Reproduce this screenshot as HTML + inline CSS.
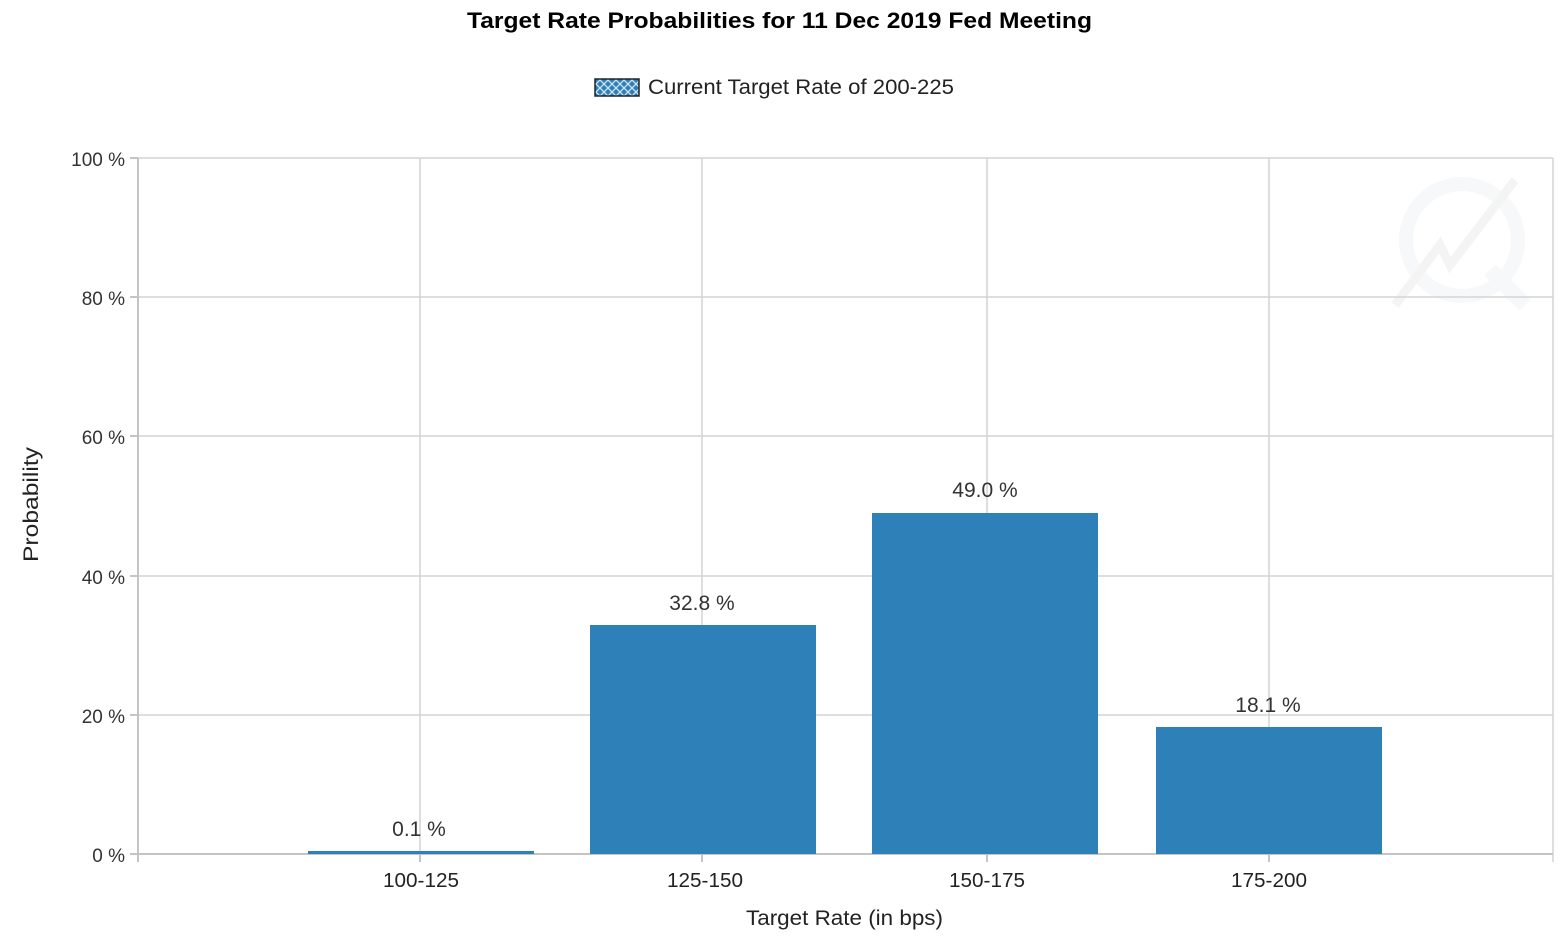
<!DOCTYPE html>
<html><head><meta charset="utf-8"><style>
html,body{margin:0;padding:0;background:#fff;}
svg{display:block;font-family:"Liberation Sans",sans-serif;}
</style></head><body>
<svg width="1566" height="936" viewBox="0 0 1566 936" xmlns="http://www.w3.org/2000/svg">
<defs>
<pattern id="hx" width="8" height="8" patternUnits="userSpaceOnUse">
<rect width="8" height="8" fill="#2e81b8"/>
<path d="M0 0L8 8M8 0L0 8" stroke="#cfe4f2" stroke-width="1.3"/>
</pattern>
</defs>
<text x="467" y="28" font-size="22" font-weight="bold" fill="#000" textLength="625" lengthAdjust="spacingAndGlyphs">Target Rate Probabilities for 11 Dec 2019 Fed Meeting</text>
<rect x="595" y="79" width="44" height="17" fill="url(#hx)" stroke="#222" stroke-width="1.5"/>
<text x="648" y="94" font-size="21" fill="#222" textLength="306" lengthAdjust="spacingAndGlyphs">Current Target Rate of 200-225</text>
<!-- watermark -->
<g opacity="0.12" fill="none" stroke="#b8c8d8">
<circle cx="1462" cy="240" r="56" stroke-width="14"/>
<path d="M1490 270L1525 305" stroke-width="16"/>
<path d="M1395 305L1440 245L1450 265L1515 180" stroke="#aaa" stroke-width="9"/>
</g>
<!-- grid -->
<g stroke="#d4d4d4" stroke-width="1.5">
<line x1="138" y1="158" x2="1553" y2="158"/>
<line x1="138" y1="297" x2="1553" y2="297"/>
<line x1="138" y1="436" x2="1553" y2="436"/>
<line x1="138" y1="576" x2="1553" y2="576"/>
<line x1="138" y1="715" x2="1553" y2="715"/>
<line x1="420" y1="158" x2="420" y2="854"/>
<line x1="702" y1="158" x2="702" y2="854"/>
<line x1="987" y1="158" x2="987" y2="854"/>
<line x1="1269" y1="158" x2="1269" y2="854"/>
<line x1="1553" y1="158" x2="1553" y2="862"/>
</g>
<g stroke="#c4c4c4" stroke-width="2">
<line x1="138" y1="158" x2="138" y2="862"/>
<line x1="130" y1="854" x2="1553" y2="854"/>
<line x1="130" y1="158" x2="138" y2="158"/>
<line x1="130" y1="297" x2="138" y2="297"/>
<line x1="130" y1="436" x2="138" y2="436"/>
<line x1="130" y1="576" x2="138" y2="576"/>
<line x1="130" y1="715" x2="138" y2="715"/>
<line x1="420" y1="854" x2="420" y2="862"/>
<line x1="702" y1="854" x2="702" y2="862"/>
<line x1="987" y1="854" x2="987" y2="862"/>
<line x1="1269" y1="854" x2="1269" y2="862"/>
</g>
<g font-size="19" fill="#333" text-anchor="end">
<text x="125" y="166">100 %</text>
<text x="125" y="305">80 %</text>
<text x="125" y="444">60 %</text>
<text x="125" y="584">40 %</text>
<text x="125" y="723">20 %</text>
<text x="125" y="862">0 %</text>
</g>
<g fill="#2e81b8">
<rect x="308" y="851" width="226" height="3"/>
<rect x="590" y="625" width="226" height="229"/>
<rect x="872" y="513" width="226" height="341"/>
<rect x="1156" y="727" width="226" height="127"/>
</g>
<g font-size="21" fill="#333" text-anchor="middle">
<text x="419" y="836">0.1 %</text>
<text x="702" y="610">32.8 %</text>
<text x="985" y="497">49.0 %</text>
<text x="1268" y="712">18.1 %</text>
</g>
<g font-size="20" fill="#222">
<text x="383" y="887" textLength="76" lengthAdjust="spacingAndGlyphs">100-125</text>
<text x="667" y="887" textLength="76" lengthAdjust="spacingAndGlyphs">125-150</text>
<text x="949" y="887" textLength="76" lengthAdjust="spacingAndGlyphs">150-175</text>
<text x="1231" y="887" textLength="76" lengthAdjust="spacingAndGlyphs">175-200</text>
<text x="746" y="925" font-size="21" textLength="197" lengthAdjust="spacingAndGlyphs">Target Rate (in bps)</text>
<text transform="translate(38 562) rotate(-90)" font-size="21" textLength="115" lengthAdjust="spacingAndGlyphs">Probability</text>
</g>
</svg>
</body></html>
